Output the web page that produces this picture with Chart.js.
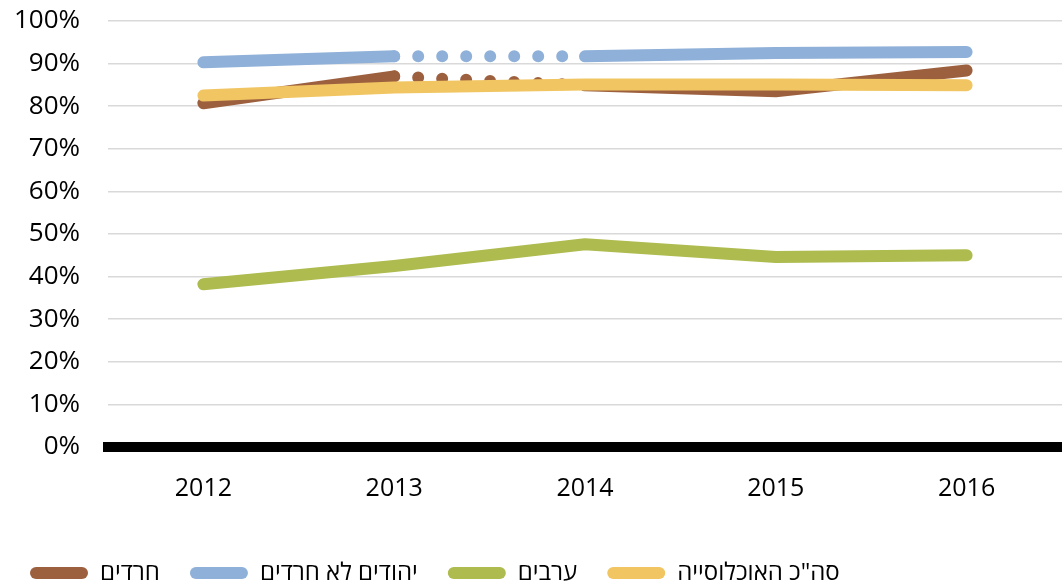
<!DOCTYPE html>
<html lang="he">
<head>
<meta charset="utf-8">
<title>chart</title>
<script src="https://cdn.jsdelivr.net/npm/chart.js@4/dist/chart.umd.min.js"></script>
<style>
    html, body { margin: 0; padding: 0; background: #fff; }
    #wrap { width: 1062px; height: 582px; position: relative; }
</style>
</head>
<body>
<div id="wrap"><canvas id="lineChart"></canvas></div>
<script>
// נתונים
const years = ['2012', '2013', '2014', '2015', '2016'];
const haredim = [80.7, 87.0, 84.9, 83.5, 88.4];
const jewsNonHaredim = [90.3, 91.7, 91.7, 92.5, 92.7];
const arabs = [38.2, 42.5, 47.6, 44.6, 45.0];
const totalPop = [82.5, 84.4, 85.1, 85.1, 84.9];
const seriesNames = ['חרדים', 'יהודים לא חרדים', 'ערבים', 'סה"כ האוכלוסייה'];

const colorBrown = '#9d603f';
const colorBlue = '#8fb0d8';
const colorGreen = '#aebb4e';
const colorYellow = '#f1c562';

const fontFamily = "'Open Sans', 'DejaVu Sans', sans-serif";

// קטע מנוקד בין 2013 ל-2014
const dottedGap = ctx => ctx.p0DataIndex === 1 ? [0, 24] : undefined;

const makeSet = (label, data, color, order, dotted) => ({
    label: label,
    data: data,
    borderColor: color,
    backgroundColor: color,
    borderWidth: 12,
    borderCapStyle: 'round',
    borderJoinStyle: 'round',
    pointRadius: 0,
    tension: 0,
    order: order,
    segment: dotted ? { borderDash: dottedGap } : {}
});

new Chart(document.getElementById('lineChart').getContext('2d'), {
    type: 'line',
    data: {
        labels: years,
        datasets: [
            makeSet(seriesNames[0], haredim, colorBrown, 2, true),
            makeSet(seriesNames[1], jewsNonHaredim, colorBlue, 1, true),
            makeSet(seriesNames[2], arabs, colorGreen, 1, false),
            makeSet(seriesNames[3], totalPop, colorYellow, 0, false)
        ]
    },
    options: {
        responsive: true,
        maintainAspectRatio: false,
        animation: false,
        layout: { padding: { left: 0, right: 0, top: 0, bottom: -13 } },
        plugins: {
            tooltip: { enabled: false },
            legend: {
                position: 'bottom',
                align: 'start',
                labels: {
                    font: { family: fontFamily, size: 24 },
                    color: '#000',
                    boxWidth: 58,
                    boxHeight: 12,
                    padding: 30,
                    useBorderRadius: true,
                    borderRadius: 6,
                    sort: (a, b) => a.datasetIndex - b.datasetIndex,
                    generateLabels: chart => chart.data.datasets.map((ds, i) => ({
                        text: ds.label,
                        fillStyle: ds.borderColor,
                        strokeStyle: ds.borderColor,
                        lineWidth: 0,
                        borderRadius: 6,
                        fontColor: '#000',
                        hidden: false,
                        datasetIndex: i
                    }))
                }
            }
        },
        scales: {
            x: {
                offset: true,
                grid: { display: false, drawTicks: false },
                border: { display: true, color: '#000', width: 10 },
                ticks: { font: { family: fontFamily, size: 25 }, color: '#000', padding: 27 }
            },
            y: {
                min: 0,
                max: 100,
                afterFit: scale => {
                    scale.width = 108;
                    scale.paddingTop = 21;
                    scale.paddingBottom = 0;
                },
                grid: { color: '#d9d9d9', lineWidth: 1.5, drawTicks: false },
                border: { display: false },
                ticks: {
                    stepSize: 10,
                    font: { family: fontFamily, size: 26 },
                    color: '#000',
                    padding: 28,
                    callback: v => v + '%'
                }
            }
        }
    }
});
</script>
</body>
</html>
